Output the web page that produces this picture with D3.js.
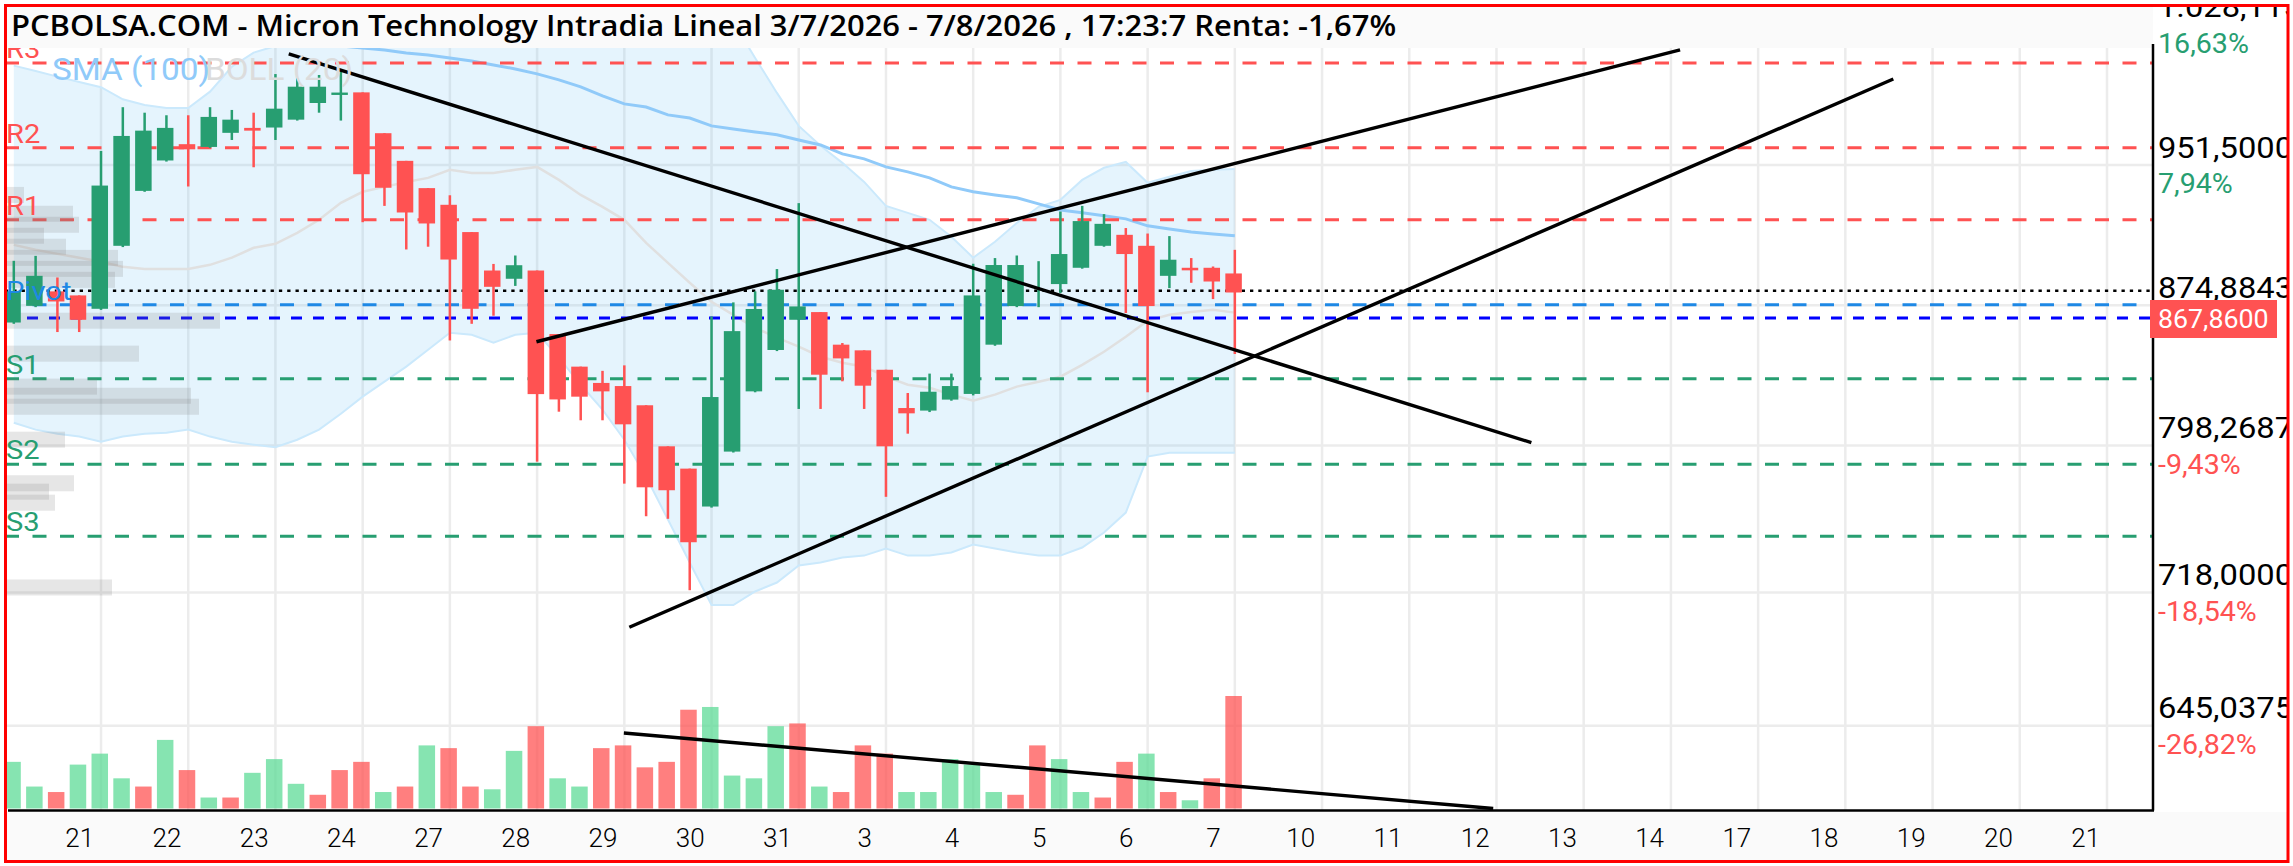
<!DOCTYPE html>
<html lang="es">
<head>
    <meta charset="UTF-8">
    <title>PCBOLSA.COM - Micron Technology</title>
    <script src="https://d3js.org/d3.v7.min.js"></script>
    <style>
        html, body { margin: 0; padding: 0; background: #fff; }
        svg { display: block; }
        text { font-family: Roboto, sans-serif; }
        .title { font-family: "Open Sans", sans-serif; font-size: 29px; font-weight: 600; fill: #000; }
        .price-axis text { font-size: 30px; fill: #000; }
        .date-axis text { font-size: 26px; font-weight: 300; fill: #000; }
        .pct { font-size: 27px; }
        .tag { font-size: 26px; }
        .level-label { font-size: 26px; }
        .legend { font-size: 32px; }
    </style>
</head>
<body>
    <svg id="chart" width="2293" height="866"></svg>

    <script>
        const titleText = "PCBOLSA.COM - Micron Technology Intradia Lineal 3/7/2026 - 7/8/2026 , 17:23:7 Renta: -1,67%";

        // candles
        const opens = [865.4,874.5,882.4,880.2,872.9,907.3,937.3,953.9,962.8,961.3,969.0,971.7,971.9,976.2,985.3,989.7,991.1,968.8,953.7,938.8,929.7,914.8,893.8,889.3,893.8,859.1,841.3,832.4,830.7,820.2,797.8,785.6,764.9,794.9,827.8,850.4,866.9,871.1,853.3,850.2,839.6,818.7,817.3,823.3,826.4,853.3,874.4,886.0,886.4,895.3,907.3,913.3,907.3,890.9,895.3,895.3,892.2];
        const highs = [899.1,901.8,890.0,880.2,959.1,983.0,980.0,978.6,978.6,983.0,981.5,980.0,1001.1,998.8,1000.6,1003.3,991.1,968.8,953.7,938.8,934.9,914.8,897.4,902.0,893.8,859.1,841.3,839.0,842.0,820.2,797.8,785.6,868.7,876.4,882.4,894.6,930.6,871.1,854.2,850.2,839.6,826.9,837.5,837.5,897.5,900.6,902.0,898.9,926.0,929.1,924.6,917.0,914.0,912.6,900.6,896.0,905.1];
        const lows = [864.7,873.8,860.2,860.2,872.3,906.6,936.8,953.3,939.7,960.8,965.1,950.2,965.1,975.7,980.0,975.7,920.2,929.1,905.3,906.8,855.6,864.7,869.1,885.4,789.4,816.7,812.0,812.0,777.4,759.6,758.2,719.2,764.3,794.4,827.3,849.8,818.2,818.2,833.3,818.2,770.2,804.7,816.5,822.7,825.6,852.7,873.8,873.8,881.5,894.8,906.8,870.6,827.3,884.2,887.1,878.2,848.2];
        const closes = [882.4,890.9,876.9,866.9,940.2,967.3,970.2,971.7,960.0,977.7,976.2,970.2,982.2,994.2,994.2,991.0,946.4,939.0,925.5,919.5,899.8,872.9,884.9,896.7,826.3,823.4,824.9,827.8,809.8,775.4,773.8,745.4,824.7,860.7,872.8,883.3,874.2,836.9,845.8,830.9,797.8,815.8,827.6,830.7,880.2,896.8,896.8,886.0,902.8,920.8,919.3,902.8,874.4,899.7,893.9,887.8,881.8];

        // volume bars, 1 = green, 0 = red
        const volumes = [17,8,6,16,20,11,8,25,14,4,4,13,18,9,5,14,17,6,8,23,22,8,7,21,30,11,8,22,23,15,17,36,37,12,11,30,31,8,6,23,20,6,6,18,16,6,5,23,18,6,4,17,20,6,3,11,41];
        const volumeSides = [1,1,0,1,1,1,0,1,0,1,0,1,1,1,0,0,0,1,0,1,0,0,1,1,0,1,1,0,0,0,0,0,1,1,1,1,0,1,0,0,0,1,1,1,1,1,0,0,1,1,0,0,1,0,1,0,0];

        // bollinger (20) and sma (100)
        const bollUpper = [1005.7,1002.8,999.7,996.8,993.9,987.3,984.2,982.6,982.6,991.5,1005.1,1012.8,1016.4,1025.2,1030.6,1030.6,1030.6,1030.6,1030.6,1030.6,1030.6,1030.6,1030.6,1030.6,1030.6,1030.6,1030.6,1030.6,1030.6,1030.6,1030.6,1030.6,1030.6,1029.5,1009.9,990.8,972.8,961.9,952.6,942.2,929.1,925.3,921.5,912.2,900.8,909.5,919.8,928.6,932.4,943.3,949.9,953.1,941.7,945.0,948.2,948.8,949.3];
        const bollLower = [810.7,806.9,804.7,803.1,800.3,803.1,804.7,805.2,806.9,803.1,800.3,798.7,797.3,801.4,806.9,815.6,824.9,833.1,841.3,850.5,859.8,858.7,854.4,858.7,859.8,846.2,831.4,817.8,801.4,781.2,757.8,734.3,711.1,711.1,718.5,723.4,732.7,734.3,737.0,738.1,742.0,738.1,738.1,739.8,744.1,742.0,739.8,738.1,738.1,742.5,750.7,761.6,792.2,794.3,794.3,794.3,794.3];
        const bollMid = [907.8,905.1,902.9,900.8,898.6,895.8,894.7,894.7,894.7,896.9,900.8,906.2,908.4,914.4,921.5,930.8,936.8,939.5,942.2,944.4,948.8,947.1,947.1,948.8,950.4,943.3,935.1,928.6,921.5,908.9,898.0,887.1,876.7,869.6,862.5,857.1,852.2,846.7,843.4,841.3,835.8,831.4,829.8,826.0,822.7,826.0,830.4,833.1,835.8,842.3,849.4,857.6,866.4,869.6,871.2,872.4,870.8];
        const smaStart = 15;
        const sma100 = [1016.4,1015.3,1014.3,1012.6,1011.5,1009.9,1008.2,1006.1,1003.9,1001.2,997.9,994.1,989.2,984.8,983.1,978.8,977.1,972.8,971.1,969.5,967.9,965.1,962.4,957.5,954.8,950.4,947.7,944.4,939.5,936.8,935.1,933.5,930.2,926.9,925.3,923.7,922.0,918.2,916.5,914.9,913.8,912.8];

        // pivot levels
        const levelNames = ["R3","R2","R1","Pivot","S1","S2","S3"];
        const levelValues = [1007.2,960.8,921.5,875.1,834.7,788.0,748.6];
        const levelColors = ["#ff5252","#ff5252","#ff5252","#1e88e5","#279e71","#279e71","#279e71"];
        const lastPrice = 867.86;
        const lastPriceLabel = "867,8600";
        const prevClose = 882.7;

        // volume by price on the left edge
        const profilePrices = [935.1,924.8,918.8,912.8,906.8,900.7,894.7,888.7,866.4,848.4,830.4,825.4,819.4,801.4,777.6,773.0,767.0,720.7];
        const profileSizes = [17,66,72,37,59,111,116,108,213,132,90,184,192,58,67,42,48,105];

        // hand drawn trend lines: [candle index, price] pairs
        const trendFrom = [[12.61,1012.1],[23.97,854.9],[28.23,698.9]];
        const trendTo = [[69.6,799.8],[76.42,1014.3],[86.2,998.4]];
        const volTrendFrom = [27.98,27.5];
        const volTrendTo = [67.85,0];

        // axes
        const priceTicks = [1028.1157,951.5,874.8843,798.2687,718,645.0375];
        const priceLabels = ["1.028,1157","951,5000","874,8843","798,2687","718,0000","645,0375"];
        const pctLabels = ["16,63%","7,94%","","-9,43%","-18,54%","-26,82%"];
        const pctColors = ["#279e71","#279e71","","#ff5252","#ff5252","#ff5252"];
        const dateLabels = ["21","22","23","24","27","28","29","30","31","3","4","5","6","7","10","11","12","13","14","17","18","19","20","21"];

        const green = "#279e71";
        const red = "#ff5252";

        const left = 7, right = 2153, axisY = 810.5;

        const x = d3.scaleLinear().domain([0, 96]).range([13.8, 2107]);
        const y = d3.scaleLinear().domain([1028.1157, 718, 645.0375]).range([24.6, 592.4, 725.7]);
        const yVol = d3.scaleLinear().domain([0, 41]).range([808.5, 696]);
        const xProfile = d3.scaleLinear().domain([0, 213]).range([left, 220]);

        const svg = d3.select("#chart");

        // text in the original runs a bit wider than the installed fonts
        function wide(sel, k, tx, ty) {
            sel.attr("x", 0).attr("y", 0)
                .attr("transform", (d, i) => `translate(${tx(d, i)},${ty(d, i)}) scale(${k},1)`);
        }

        svg.append("clipPath").attr("id", "frameClip")
            .append("rect").attr("x", left).attr("y", left).attr("width", 2280).attr("height", 853);

        const root = svg.append("g").attr("clip-path", "url(#frameClip)");

        // grid
        const gridIdx = dateLabels.map((d, i) => (i + 1) * 4);
        root.append("g").selectAll("line").data(gridIdx).join("line")
            .attr("x1", d => x(d)).attr("x2", d => x(d))
            .attr("y1", 48).attr("y2", axisY)
            .attr("stroke", "#ececec").attr("stroke-width", 2.5);
        root.append("g").selectAll("line").data(priceTicks).join("line")
            .attr("x1", left).attr("x2", right)
            .attr("y1", d => y(d)).attr("y2", d => y(d))
            .attr("stroke", "#ececec").attr("stroke-width", 2.5);

        // bollinger band
        const band = d3.area().x((d, i) => x(i)).y0((d, i) => y(bollLower[i])).y1(d => y(d));
        root.append("path").attr("d", band(bollUpper))
            .attr("fill", "#64bef5").attr("fill-opacity", 0.17);
        const line = d3.line().x((d, i) => x(i)).y(d => y(d));
        [bollUpper, bollLower].forEach(s => {
            root.append("path").attr("d", line(s))
                .attr("fill", "none").attr("stroke", "#cbe9fc").attr("stroke-width", 2);
        });
        root.append("path").attr("d", line(bollMid))
            .attr("fill", "none").attr("stroke", "#e0e0e0").attr("stroke-width", 2.5);
        root.append("path")
            .attr("d", d3.line().x((d, i) => x(i + smaStart)).y(d => y(d))(sma100))
            .attr("fill", "none").attr("stroke", "#90caf9").attr("stroke-width", 3);

        // level lines
        root.append("g").selectAll("line").data(levelValues).join("line")
            .attr("x1", 5).attr("x2", right)
            .attr("y1", d => y(d)).attr("y2", d => y(d))
            .attr("stroke", (d, i) => levelColors[i]).attr("stroke-width", 3)
            .attr("stroke-dasharray", "14 13.5");
        root.append("line")
            .attr("x1", 5).attr("x2", right).attr("y1", y(lastPrice)).attr("y2", y(lastPrice))
            .attr("stroke", "#0000ff").attr("stroke-width", 3).attr("stroke-dasharray", "11 11");
        root.append("line")
            .attr("x1", 5).attr("x2", right).attr("y1", y(prevClose)).attr("y2", y(prevClose))
            .attr("stroke", "#000").attr("stroke-width", 2.5).attr("stroke-dasharray", "3.3 5");

        // volume by price
        root.append("g").selectAll("rect").data(profilePrices).join("rect")
            .attr("x", left)
            .attr("y", d => y(d) - 8)
            .attr("width", (d, i) => xProfile(profileSizes[i]) - left)
            .attr("height", 16)
            .attr("fill", "#808080").attr("fill-opacity", 0.2);

        // volume bars
        root.append("g").selectAll("rect").data(volumes).join("rect")
            .attr("x", (d, i) => x(i) - 9.5)
            .attr("y", d => yVol(d))
            .attr("width", 16.5)
            .attr("height", d => yVol(0) - yVol(d))
            .attr("fill", (d, i) => volumeSides[i] ? "#5cdb96" : red)
            .attr("fill-opacity", 0.74);

        // candles
        const candles = root.append("g").selectAll("g").data(opens).join("g")
            .attr("fill", (d, i) => closes[i] >= opens[i] ? green : red);
        candles.append("rect")
            .attr("x", (d, i) => x(i) - 1.25)
            .attr("y", (d, i) => y(highs[i]))
            .attr("width", 2.5)
            .attr("height", (d, i) => y(lows[i]) - y(highs[i]));
        candles.append("rect")
            .attr("x", (d, i) => x(i) - 9.5)
            .attr("y", (d, i) => y(Math.max(opens[i], closes[i])))
            .attr("width", 16.5)
            .attr("height", (d, i) => Math.abs(y(opens[i]) - y(closes[i])));

        // trend lines
        trendFrom.forEach((a, i) => {
            const b = trendTo[i];
            root.append("line")
                .attr("x1", x(a[0])).attr("y1", y(a[1]))
                .attr("x2", x(b[0])).attr("y2", y(b[1]))
                .attr("stroke", "#000").attr("stroke-width", 3.4);
        });
        root.append("line")
            .attr("x1", x(volTrendFrom[0])).attr("y1", yVol(volTrendFrom[1]))
            .attr("x2", x(volTrendTo[0])).attr("y2", yVol(volTrendTo[1]))
            .attr("stroke", "#000").attr("stroke-width", 3.4);

        // labels on the levels and the legend
        root.append("g").selectAll("text").data(levelNames).join("text")
            .attr("class", "level-label")
            .attr("fill", (d, i) => levelColors[i])
            .text(d => d)
            .call(wide, 1.12, () => 6, (d, i) => y(levelValues[i]) - 5);
        root.append("text").attr("class", "legend")
            .attr("fill", "#90caf9").text("SMA (100)")
            .call(wide, 1.04, () => 52, () => 80);
        root.append("text").attr("class", "legend")
            .attr("fill", "#dcdcdc").text("BOLL (20)")
            .call(wide, 1.04, () => 205, () => 80);

        // title band
        root.append("rect").attr("x", left).attr("y", left)
            .attr("width", right - left).attr("height", 41).attr("fill", "#fafafa");
        root.append("text").attr("class", "title")
            .text(titleText)
            .call(wide, 1.067, () => 11, () => 36);

        // bottom band and date axis
        root.append("rect").attr("x", left).attr("y", 812)
            .attr("width", 2280).attr("height", 48).attr("fill", "#fafafa");

        const dateAxis = d3.axisBottom(x)
            .tickValues(gridIdx.map(d => d - 1))
            .tickFormat((d, i) => dateLabels[i])
            .tickSize(0)
            .tickPadding(18);
        const dateG = root.append("g").attr("class", "date-axis")
            .attr("transform", `translate(0,${axisY})`)
            .call(dateAxis);
        dateG.select(".domain").remove();

        // price axis
        const priceAxis = d3.axisRight(y)
            .tickValues(priceTicks)
            .tickFormat((d, i) => priceLabels[i])
            .tickSize(0);
        const priceG = root.append("g").attr("class", "price-axis")
            .attr("transform", `translate(${right},0)`)
            .call(priceAxis);
        priceG.select(".domain").remove();
        priceG.selectAll("text").attr("dy", null)
            .call(wide, 1.09, () => 5, () => -7.8);

        root.append("g").selectAll("text").data(pctLabels).join("text")
            .attr("class", "pct")
            .attr("fill", (d, i) => pctColors[i])
            .text(d => d)
            .call(wide, 1.06, () => right + 5, (d, i) => y(priceTicks[i]) + 28.5);

        // axis lines
        root.append("line").attr("x1", 8).attr("x2", right + 1).attr("y1", axisY).attr("y2", axisY)
            .attr("stroke", "#000").attr("stroke-width", 2.5);
        root.append("line").attr("x1", right).attr("x2", right).attr("y1", 44).attr("y2", axisY)
            .attr("stroke", "#000").attr("stroke-width", 2.5);

        // last price tag
        root.append("rect").attr("x", 2150).attr("y", 300).attr("width", 127).attr("height", 38)
            .attr("fill", red);
        root.append("text").attr("class", "tag")
            .attr("fill", "#fff").text(lastPriceLabel)
            .call(wide, 1.03, () => right + 5, () => y(lastPrice) + 9.5);

        // red frame
        svg.append("rect").attr("x", 5.5).attr("y", 5.5).attr("width", 2282.5).attr("height", 856)
            .attr("fill", "none").attr("stroke", "#ff0000").attr("stroke-width", 3);
    </script>
</body>
</html>
